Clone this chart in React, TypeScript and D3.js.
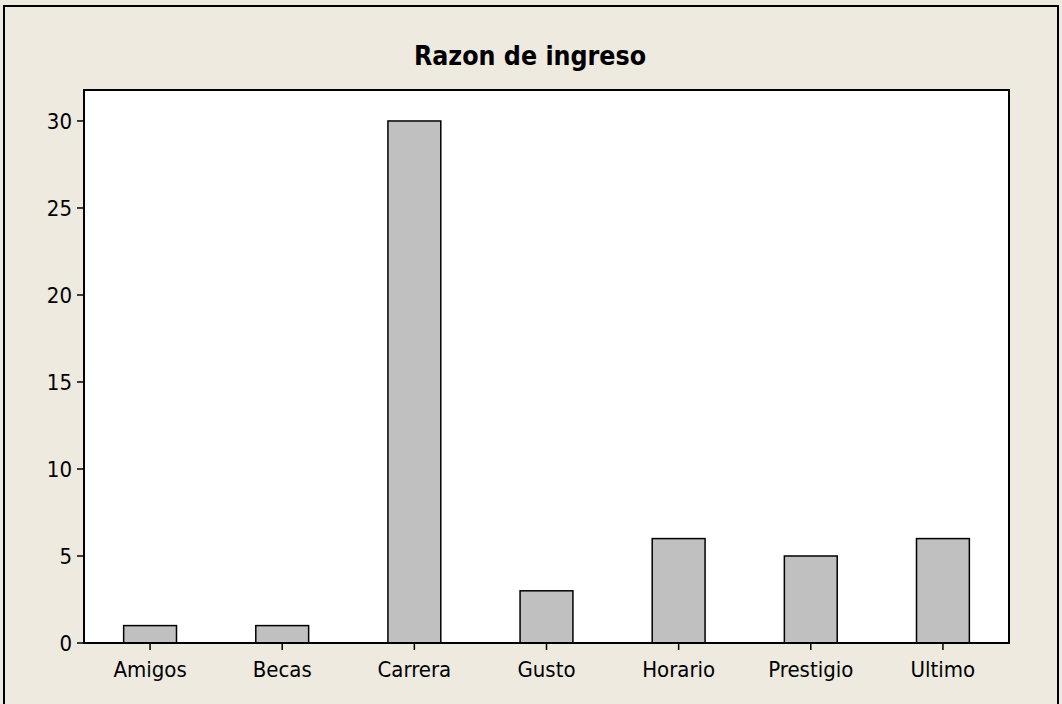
import React, { useEffect } from 'react';
import * as d3 from 'd3';

const categories = ['Amigos', 'Becas', 'Carrera', 'Gusto', 'Horario', 'Prestigio', 'Ultimo'];
const counts = [1, 1, 30, 3, 6, 5, 6];
const yTicks = [0, 5, 10, 15, 20, 25, 30];
const title = 'Razon de ingreso';

const W = 1062;
const H = 704;
const plot = { left: 84, top: 90, right: 1009, bottom: 643 };
const font = '"DejaVu Sans Condensed", "DejaVu Sans", sans-serif';

const App: React.FC = () => {
  useEffect(() => {
    document.body.style.margin = '0';
  }, []);

  const x = d3.scaleBand()
    .domain(categories)
    .range([plot.left, plot.right])
    .paddingInner(0.6)
    .paddingOuter(0.3);

  // 30 sits at ~121px, top of frame at 90
  const y = d3.scaleLinear()
    .domain([0, 31.78])
    .range([plot.bottom, plot.top]);

  return (
    <svg width={W} height={H} style={{ display: 'block' }}>
      <rect x={0} y={0} width={W} height={H} fill="#eeeae0" />
      {/* outer frame, bottom edge runs off the page */}
      <rect x={4} y={6} width={1054} height={720} fill="none" stroke="#000" strokeWidth={2} />

      <text x={530} y={65} textAnchor="middle"
        fontFamily={font} fontWeight="bold" fontSize={26.5} fill="#000">{title}</text>

      <rect x={plot.left} y={plot.top} width={plot.right - plot.left} height={plot.bottom - plot.top}
        fill="#fff" stroke="#000" strokeWidth={2} />

      {categories.map((c, i) => (
        <rect key={c} x={x(c)!} y={y(counts[i])} width={x.bandwidth()}
          height={y(0) - y(counts[i])} fill="#c0c0c0" stroke="#000" strokeWidth={1.5} />
      ))}

      {/* y axis */}
      {yTicks.map(t => (
        <g key={t}>
          <line x1={plot.left - 7} x2={plot.left} y1={y(t)} y2={y(t)} stroke="#000" strokeWidth={1.5} />
          <text x={plot.left - 12} y={y(t)} dy="0.38em" textAnchor="end"
            fontFamily={font} fontSize={22} fill="#000">{t}</text>
        </g>
      ))}

      {/* x axis */}
      {categories.map(c => {
        const cx = x(c)! + x.bandwidth() / 2;
        return (
          <g key={c}>
            <line x1={cx} x2={cx} y1={plot.bottom} y2={plot.bottom + 7} stroke="#000" strokeWidth={1.5} />
            <text x={cx} y={677} textAnchor="middle" fontFamily={font} fontSize={22} fill="#000">{c}</text>
          </g>
        );
      })}

      <rect x={plot.left} y={plot.top} width={plot.right - plot.left} height={plot.bottom - plot.top}
        fill="none" stroke="#000" strokeWidth={2} />
    </svg>
  );
};

export default App;
